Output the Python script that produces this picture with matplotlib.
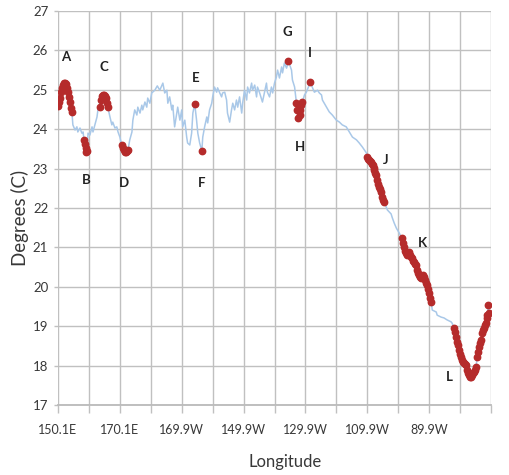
import matplotlib
matplotlib.use("Agg")
import matplotlib.pyplot as plt
import numpy as np

# Sea-surface temperature along the cruise track (longitude in degrees east)
lon = [
    150.1, 150.4, 150.7, 151.1, 151.4, 151.7, 152.0, 152.3, 152.7, 153.0, 153.3, 153.6, 154.0, 154.3, 154.6,
    154.9, 155.6, 156.2, 156.5, 157.2, 157.8, 158.2,
    158.5, 158.8, 159.0, 159.2, 159.5,
    159.8, 160.4, 161.1, 161.4, 162.0, 162.7, 163.0,
    163.6, 164.0, 164.3, 164.6, 164.9, 165.3, 165.6, 165.9, 166.2,
    166.9, 167.5, 167.8, 168.5, 169.1, 169.5, 170.1,
    170.7, 171.0, 171.4, 171.7, 172.0, 172.4, 172.7,
    173.3, 174.0, 174.3, 174.9, 175.6, 175.9, 176.6, 177.2, 177.5, 178.2, 178.8, 179.1, 179.8,
    180.4, 181.4, 182.2, 183.0, 184.0, 184.6, 185.3, 185.6, 186.2, 186.9, 187.2, 187.8, 188.5,
    188.8, 189.5, 190.1, 190.4, 191.1, 191.7, 192.0, 192.7, 193.3, 193.7,
    194.3,
    194.9, 195.3, 195.9,
    196.6,
    196.9, 197.5, 198.2, 198.5, 199.1, 199.8, 200.1, 200.7, 201.4, 201.7, 202.4, 203.0, 203.3,
    204.0, 204.6, 204.9, 205.6, 206.2, 206.6, 207.2, 207.8, 208.2, 208.8, 209.5, 209.8, 210.4,
    211.1, 211.4, 212.0, 212.7, 213.0, 213.7, 214.3, 214.6, 215.3, 216.2, 217.5, 217.8, 218.5,
    219.1, 219.5, 220.1, 220.7, 221.1, 221.7, 222.4, 222.7, 223.3, 224.0,
    224.6,
    225.6, 225.9, 226.6,
    227.2, 227.5, 227.8, 228.2, 228.5, 228.8, 229.1,
    229.8, 230.4,
    231.7,
    232.4, 233.0, 234.0, 234.6, 235.3, 235.6, 236.9, 237.8, 238.8, 240.1, 241.1, 242.0, 243.3,
    244.3, 245.3, 246.6, 247.5, 248.5, 249.8,
    250.1, 250.4, 250.8, 251.1, 251.4, 251.7, 252.0, 252.2, 252.4, 252.7, 253.0, 253.3, 253.6,
    254.0, 254.3, 254.6, 254.9, 255.2, 255.6,
    256.2, 256.6, 257.2, 257.8, 258.2, 258.8, 259.5, 260.4, 261.1,
    261.4, 261.7, 262.0, 262.4, 262.7, 263.0, 263.4, 263.7, 264.0, 264.3, 264.6, 265.0, 265.3,
    265.6, 265.9, 266.2, 266.6, 266.9, 267.2, 267.5, 267.8, 268.2, 268.5, 268.8, 269.1, 269.5,
    269.8, 270.1, 270.5, 270.8,
    271.1, 272.4, 272.7, 274.0, 274.9, 275.9, 277.2, 277.5,
    278.2, 278.5, 278.8, 279.1, 279.5, 279.8, 280.1, 280.4, 280.8, 281.1, 281.4, 281.8, 282.1,
    282.4, 282.7, 283.0, 283.4, 283.7, 284.0, 284.3, 284.6, 285.0, 285.3, 285.6, 286.0, 286.3,
    286.6, 286.9, 287.2, 287.6, 287.9, 288.2, 288.5, 288.7, 288.9, 289.2, 289.5,
]
temp = [
    24.59, 24.70, 24.79, 24.95, 25.05, 25.12, 25.17, 25.18, 25.15, 25.05, 24.94, 24.82, 24.69, 24.55, 24.43,
    24.11, 23.98, 24.06, 23.93, 24.03, 23.90, 23.93,
    23.73, 23.62, 23.52, 23.42, 23.45,
    23.90, 23.85, 24.06, 23.93, 24.11, 24.31, 24.49,
    24.56, 24.74, 24.84, 24.86, 24.87, 24.84, 24.79, 24.66, 24.56,
    24.31, 24.11, 24.18, 24.03, 24.06, 23.93, 23.80,
    23.60, 23.52, 23.47, 23.43, 23.42, 23.44, 23.47,
    23.73, 23.93, 24.23, 24.49, 24.36, 24.56, 24.41, 24.61, 24.49, 24.69, 24.56, 24.79, 24.66,
    24.92, 24.99, 25.10, 24.99, 25.17, 24.92, 24.99, 24.66, 24.82, 24.49, 24.61, 24.06, 24.41,
    24.56, 24.23, 24.49, 24.06, 24.23, 23.80, 23.65, 23.60, 23.90, 24.41,
    24.64,
    24.23, 23.90, 23.65,
    23.45,
    23.80, 24.06, 24.31, 24.16, 24.49, 24.66, 24.82, 25.07, 24.94, 25.05, 24.92, 24.82, 24.92,
    24.94, 24.74, 24.41, 24.18, 24.49, 24.66, 24.49, 24.74, 24.56, 24.82, 24.41, 24.66, 24.99,
    24.74, 25.07, 24.92, 25.17, 24.99, 25.12, 24.82, 25.07, 24.92, 24.69, 25.17, 24.94, 24.82,
    25.07, 24.92, 25.17, 25.32, 25.50, 25.30, 25.58, 25.43, 25.68, 25.55,
    25.73,
    25.50, 25.25, 25.07,
    24.66, 24.49, 24.28, 24.36, 24.49, 24.61, 24.69,
    24.87, 24.94,
    25.20,
    25.05, 24.94, 24.99, 24.92, 24.87, 24.74, 24.56, 24.44, 24.36, 24.23, 24.18, 24.11, 24.06,
    23.93, 23.80, 23.73, 23.65, 23.55, 23.40,
    23.29, 23.25, 23.22, 23.20, 23.17, 23.12, 23.09, 23.02, 22.96, 22.90, 22.84, 22.71, 22.62,
    22.53, 22.47, 22.41, 22.28, 22.20, 22.15,
    22.03, 21.95, 21.90, 21.85, 21.75, 21.62, 21.49, 21.37, 21.26,
    21.24, 21.11, 21.00, 20.90, 20.86, 20.81, 20.86, 20.88, 20.80, 20.76, 20.73, 20.66, 20.62,
    20.58, 20.55, 20.42, 20.35, 20.30, 20.25, 20.22, 20.27, 20.30, 20.24, 20.17, 20.10, 20.05,
    19.95, 19.84, 19.72, 19.61,
    19.41, 19.36, 19.28, 19.23, 19.21, 19.16, 19.11, 19.08,
    18.95, 18.84, 18.73, 18.60, 18.52, 18.40, 18.30, 18.22, 18.14, 18.10, 18.07, 18.04, 18.02,
    17.89, 17.82, 17.76, 17.72, 17.71, 17.76, 17.80, 17.84, 17.90, 17.96, 18.22, 18.35, 18.47,
    18.58, 18.65, 18.83, 18.90, 18.95, 19.02, 19.08, 19.20, 19.28, 19.54, 19.33,
]

# Longitude spans of the highlighted stretches, one per label
spans = {
    "A": (150.1, 154.6), "B": (158.5, 159.5), "C": (163.6, 166.2), "D": (170.7, 172.7),
    "E": (194.3, 194.3), "F": (196.6, 196.6), "G": (224.6, 224.6), "H": (227.2, 229.1),
    "I": (231.7, 231.7), "J": (250.1, 255.6), "K": (261.4, 270.8), "L": (278.2, 289.5),
}

# Label anchor points (longitude, degrees C)
label_pos = {
    "A": (152.7, 25.83), "B": (159.1, 22.71), "C": (164.9, 25.58), "D": (171.4, 22.63),
    "E": (194.6, 25.30), "F": (196.6, 22.63), "G": (224.3, 26.47), "H": (228.2, 23.55),
    "I": (231.4, 25.93), "J": (256.2, 23.22), "K": (267.8, 21.11), "L": (276.5, 17.71),
}

lon_ticks = [150.1, 160.1, 170.1, 180.1, 190.1, 200.1, 210.1, 220.1,
             230.1, 240.1, 250.1, 260.1, 270.1, 280.1, 290.1]
lon_labels = ["150.1E", "", "170.1E", "", "169.9W", "", "149.9W", "",
              "129.9W", "", "109.9W", "", "89.9W", "", ""]
temp_ticks = [17, 18, 19, 20, 21, 22, 23, 24, 25, 26, 27]

plt.rcParams["font.family"] = ["Lato", "DejaVu Sans"]

fig = plt.figure(figsize=(5.09, 4.75), dpi=100)
ax = fig.add_axes([0.114, 0.1474, 0.8506, 0.8294])

lon_a = np.array(lon)
temp_a = np.array(temp)

ax.plot(lon_a, temp_a, color="#a9c8e8", lw=1.1, zorder=3)

for key, (lo, hi) in spans.items():
    sel = (lon_a >= lo - 1e-6) & (lon_a <= hi + 1e-6)
    ax.plot(lon_a[sel], temp_a[sel], ls="none", marker="o", ms=4.6,
            color="#b52b2b", mec="#b52b2b", zorder=4)

for key, (x, y) in label_pos.items():
    ax.text(x, y, key, ha="center", va="center", fontsize=9.5,
            fontweight="bold", color="#222222", zorder=5)

ax.set_xlim(150.1, 290.1)
ax.set_ylim(17, 27)
ax.set_xticks(lon_ticks)
ax.set_xticklabels(lon_labels)
ax.set_yticks(temp_ticks)

ax.grid(True, color="#c0c0c0", lw=1.0, zorder=0)
ax.set_axisbelow(True)
for s in ["top", "right", "left"]:
    ax.spines[s].set_visible(False)
ax.spines["bottom"].set_color("#bababa")
ax.spines["bottom"].set_linewidth(1.3)

ax.tick_params(axis="x", length=6, width=1.0, color="#c0c0c0",
               labelsize=9, labelcolor="#383838", pad=8)
ax.tick_params(axis="y", length=3, width=1.0, color="#c0c0c0",
               labelsize=9.5, labelcolor="#383838", pad=4)

fig.text(285 / 509, 1 - 462 / 475, "Longitude", ha="center", va="center",
         fontsize=12, color="#383838")
fig.text(20 / 509, 1 - 218 / 475, "Degrees (C)", ha="center", va="center",
         rotation=90, fontsize=13.5, color="#383838")

fig.savefig("out.png", dpi=100, facecolor="white")
